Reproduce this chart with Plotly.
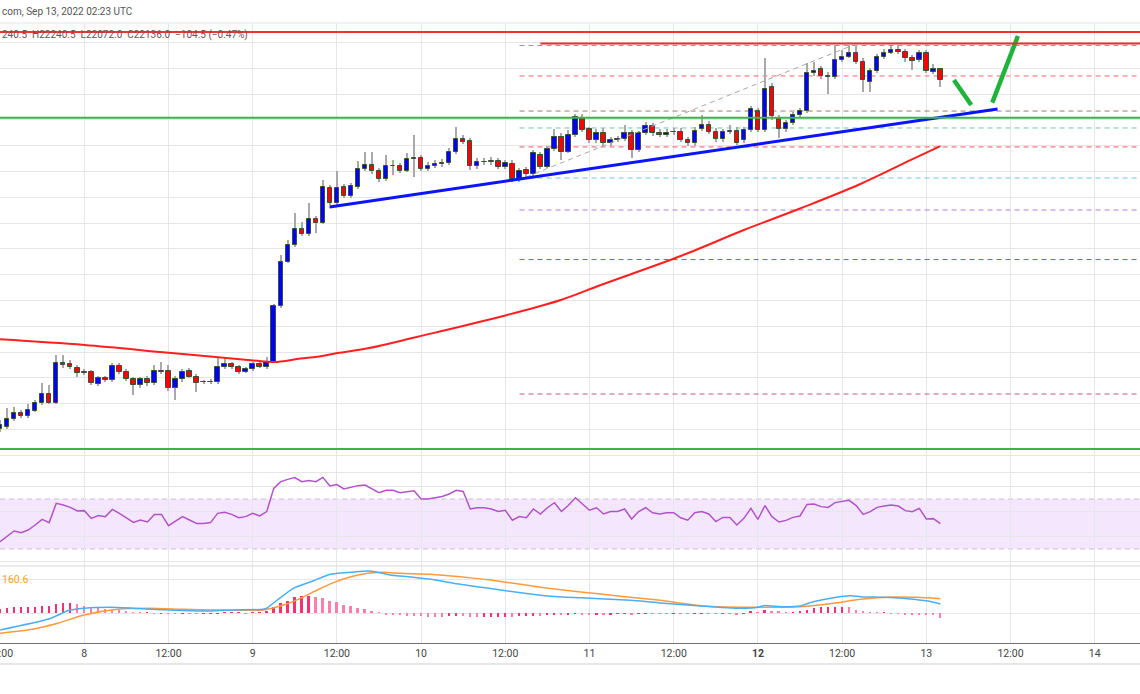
import plotly.graph_objects as go
import pandas as pd

BASE = pd.Timestamp("2022-09-07 12:00")

# ---------------- hourly candles (Sep 7 12:00 -> Sep 13 02:00 UTC) ----------------
opens = [18754, 18776, 18848, 18912, 18880, 18931, 19009, 19090, 19009, 19396,
         19381, 19342, 19303, 19303, 19190, 19245, 19229, 19367, 19309, 19238,
         19180, 19236, 19197, 19319, 19319, 19148, 19238, 19319, 19261, 19205,
         19206, 19207, 19358, 19381, 19352, 19309, 19332, 19381, 19352, 19406,
         19946, 20375, 20537, 20692, 20641, 20786, 20753, 21086, 20947, 21096,
         21012, 21102, 21271, 21312, 21254, 21174, 21302, 21302, 21257, 21367,
         21380, 21271, 21302, 21319, 21329, 21441, 21561, 21548, 21302, 21344,
         21351, 21351, 21296, 21322, 21174, 21264, 21222, 21409, 21296, 21464,
         21586, 21441, 21603, 21765, 21658, 21554, 21625, 21522, 21554, 21561,
         21619, 21457, 21619, 21693, 21625, 21603, 21630, 21632, 21554, 21522,
         21658, 21700, 21635, 21561, 21635, 21642, 21554, 21651, 21835, 21651,
         22065, 21765, 21658, 21716, 21797, 21835, 22207, 22240, 22175, 22168,
         22330, 22362, 22400, 22313, 22119, 22226, 22356, 22400, 22426, 22410,
         22346, 22330, 22400, 22216, 22240.5]
highs = [18841, 18957, 18967, 18938, 18996, 19035, 19200, 19180, 19471, 19471,
         19423, 19374, 19335, 19326, 19268, 19268, 19393, 19393, 19335, 19258,
         19258, 19268, 19374, 19406, 19374, 19268, 19335, 19345, 19287, 19229,
         19238, 19442, 19442, 19403, 19374, 19355, 19403, 19403, 19452, 19965,
         20440, 20585, 20844, 20763, 20941, 20818, 21167, 21118, 21254, 21128,
         21138, 21354, 21441, 21438, 21283, 21409, 21361, 21332, 21428, 21603,
         21409, 21341, 21361, 21370, 21477, 21683, 21603, 21574, 21380, 21380,
         21390, 21380, 21361, 21361, 21283, 21293, 21457, 21438, 21496, 21661,
         21622, 21651, 21806, 21806, 21680, 21661, 21671, 21583, 21593, 21700,
         21651, 21641, 21729, 21719, 21661, 21661, 21671, 21671, 21583, 21680,
         21797, 21739, 21671, 21661, 21700, 21680, 21680, 21884, 21864, 22346,
         22110, 21797, 21748, 21826, 21864, 22298, 22310, 22271, 22213, 22475,
         22426, 22475, 22475, 22349, 22252, 22388, 22436, 22465, 22475, 22436,
         22378, 22426, 22426, 22291, 22240.5]
lows = [18725, 18754, 18831, 18861, 18861, 18919, 18987, 18996, 18996, 19345,
        19335, 19261, 19277, 19180, 19171, 19209, 19209, 19287, 19219, 19083,
        19151, 19171, 19180, 19287, 19122, 19035, 19209, 19248, 19115, 19190,
        19190, 19190, 19335, 19335, 19283, 19297, 19316, 19345, 19335, 19393,
        19927, 20363, 20518, 20624, 20624, 20653, 20740, 20925, 20925, 20992,
        20992, 21080, 21254, 21225, 21147, 21157, 21215, 21235, 21244, 21196,
        21254, 21254, 21283, 21293, 21312, 21419, 21516, 21264, 21273, 21312,
        21312, 21273, 21273, 21147, 21147, 21196, 21206, 21273, 21283, 21448,
        21361, 21428, 21583, 21632, 21525, 21525, 21496, 21496, 21535, 21545,
        21380, 21438, 21603, 21593, 21583, 21583, 21603, 21535, 21496, 21496,
        21642, 21612, 21535, 21535, 21612, 21506, 21525, 21632, 21632, 21632,
        21748, 21574, 21632, 21700, 21777, 21816, 22175, 22146, 22000, 22146,
        22310, 22349, 22291, 22022, 22022, 22204, 22339, 22388, 22388, 22310,
        22233, 22310, 22204, 22195, 22072.0]
closes = [18793, 18848, 18912, 18880, 18938, 19009, 19090, 19009, 19396, 19374,
          19352, 19294, 19300, 19197, 19245, 19229, 19367, 19309, 19238, 19180,
          19236, 19197, 19319, 19306, 19148, 19238, 19309, 19261, 19197, 19206,
          19213, 19352, 19381, 19352, 19309, 19332, 19381, 19358, 19406, 19946,
          20375, 20537, 20692, 20641, 20786, 20753, 21102, 20947, 21086, 21012,
          21109, 21271, 21312, 21254, 21174, 21302, 21300, 21257, 21367, 21383,
          21271, 21302, 21319, 21334, 21441, 21561, 21538, 21302, 21344, 21345,
          21338, 21296, 21329, 21174, 21254, 21222, 21425, 21296, 21464, 21586,
          21441, 21603, 21780, 21651, 21554, 21625, 21522, 21554, 21561, 21619,
          21457, 21619, 21693, 21619, 21603, 21625, 21633, 21554, 21522, 21642,
          21700, 21635, 21561, 21635, 21642, 21522, 21651, 21852, 21651, 22046,
          21787, 21658, 21716, 21797, 21835, 22207, 22226, 22175, 22162, 22330,
          22362, 22400, 22313, 22136, 22226, 22356, 22400, 22426, 22410, 22346,
          22323, 22400, 22226, 22240, 22136.0]

# ---------------- RSI (14) per candle ----------------
rsi = [35.8, 40.4, 44.4, 43.1, 45.2, 49.2, 53.7, 51.1, 66.5, 65.2,
       63.3, 60.4, 60.7, 54.5, 56.7, 55.9, 61.7, 58.5, 55.1, 51.3,
       53.2, 51.6, 57.7, 57.7, 48.7, 52.4, 55.9, 53.2, 50.5, 50.5,
       51.1, 58.5, 59.3, 57.7, 55.1, 55.9, 58.5, 56.4, 59.9, 78.5,
       83.9, 85.7, 87.1, 83.9, 84.7, 83.9, 87.3, 80.4, 81.5, 78.0,
       79.3, 80.7, 81.2, 78.3, 75.1, 77.0, 77.0, 75.1, 76.0, 76.5,
       70.0, 70.0, 71.0, 72.0, 74.0, 77.0, 76.0, 62.0, 63.0, 63.0,
       62.0, 60.0, 61.0, 53.0, 56.0, 55.0, 62.0, 58.0, 63.0, 67.0,
       60.0, 65.0, 71.0, 66.0, 61.0, 63.0, 58.0, 60.0, 60.0, 62.0,
       54.0, 60.0, 63.0, 59.0, 58.0, 59.0, 59.0, 55.0, 53.0, 59.0,
       59.9, 58.0, 51.9, 55.3, 55.3, 49.2, 54.5, 62.5, 53.7, 64.7,
       55.9, 51.6, 52.9, 55.3, 56.4, 65.7, 66.0, 63.9, 63.3, 67.1,
       68.1, 68.9, 64.7, 57.7, 59.9, 63.3, 64.4, 65.2, 64.4, 60.7,
       59.9, 62.5, 54.0, 54.3, 50.3]

# ---------------- MACD ----------------
macd_hist = [51, 59, 67, 67, 75, 75, 87, 87, 107, 115,
             119, 103, 87, 67, 55, 47, 40, 36, 24, 8,
             4, 4, -4, -2, -6, -8, -6, -6, -8, -6,
             -4, -2, 2, 2, 2, -2, 2, 4, 28, 67,
             119, 146, 194, 206, 206, 186, 174, 146, 134, 99,
             79, 59, 47, 20, 8, -12, -16, -24, -30, -35,
             -40, -42, -44, -45, -40, -35, -38, -50, -50, -48,
             -46, -44, -42, -45, -40, -38, -30, -30, -25, -20,
             -22, -18, -10, -12, -14, -12, -14, -12, -10, -8,
             -12, -8, -6, -6, -8, -8, -6, -8, -8, -6,
             -4, -4, -8, -6, -8, -20, -6, 12, 4, 32,
             24, 12, 4, 4, 12, 36, 55, 67, 67, 75,
             75, 71, 36, 16, 4, 2, 2, -4, -4, -12,
             -12, -16, -28, -28, -55]
macd_hours = [0, 6.8, 8.6, 9.6, 12, 15.7, 19, 23.9, 30, 33.3, 37.5, 38, 39.5, 41.8,
              44.7, 46.7, 48.1, 50, 52.4, 53.8, 55.6, 57, 61.3, 65.6, 69.9, 74.2,
              78.4, 82.7, 89.8, 94.1, 99.8, 105.5, 108, 108.8, 111.6, 114, 115.9,
              118.8, 121.2, 122.6, 125.9, 129.3, 132.2, 134]
macd_line = [-202, -75, -12, 27, 56, 67, 56, 36, 24, 36, 44, 56, 154, 293,
             383, 451, 471, 483, 498, 483, 451, 439, 400, 340, 290, 240,
             200, 180, 150, 120, 83, 56, 67, 87, 75, 83, 134,
             182, 205, 194, 186, 170, 142, 107]
signal_hours = [0, 4.8, 8.2, 12, 16.7, 21.4, 26.1, 31, 37.5, 40.4, 42.8, 45.2, 47.5,
                50, 52.4, 54.7, 57.1, 61.3, 65.6, 69.9, 74.2, 78.4, 82.7, 88.4, 94.1,
                99.8, 108.4, 114.1, 118.8, 122.6, 127.3, 130.7, 134]
signal_line = [-241, -190, -122, -24, 44, 56, 44, 36, 36, 95, 174, 273, 360,
               431, 471, 483, 471, 460, 430, 390, 340, 290, 250, 200, 150,
               87, 67, 75, 115, 162, 190, 186, 170]

# ---------------- 100 SMA ----------------
sma_hours = [0, 12.04, 24, 36.1, 39, 42.8, 45.2, 48.1, 52.4, 59.5, 71.3, 79.9,
             85.6, 97, 106, 114.1, 122.6, 129.8, 134]
sma_vals = [19623, 19568, 19493, 19418, 19403, 19437, 19455, 19490, 19536, 19648,
            19842, 20004, 20149, 20430, 20682, 20893, 21128, 21361, 21496]

# ---------------- drawings ----------------
res_top = 22600
res_second = 22490
green_mid = 21770
green_low = 18560
fib_start_hour = 74.03
fib_levels = [22470, 22175, 21835, 21671, 21487, 21186, 20876, 20396, 19093]
fib_colors = ["#a89090", "#ef6b6b", "#a07676", "#6cc9b0", "#ef5a5a",
              "#71c4e8", "#b57ad6", "#4f68f0", "#c8587a"]
trend_hours = [46.96, 142.15]
trend_prices = [20905, 21855]
diag_hours = [75.0, 121.6]
diag_prices = [21196, 22475]
arrow1_hours = [135.93, 138.4]
arrow1_prices = [22136, 21894]
arrow2_hours = [141.4, 145.05]
arrow2_prices = [21916, 22562]

tick_hours = [0, 12, 24, 36, 48, 60, 72, 84, 96, 108, 120, 132, 144, 156]
tick_text = ["12:00", "8", "12:00", "9", "12:00", "10", "12:00", "11", "12:00",
             "<b>12</b>", "12:00", "13", "12:00", "14"]

price_grid = [18500 + 250 * k for k in range(17)]


def T(h):
    return BASE + pd.Timedelta(hours=h)


times = [T(i) for i in range(len(opens))]
FONT = "Roboto, Arial, sans-serif"

fig = go.Figure()

# wicks (thin bars)
fig.add_trace(go.Bar(
    x=times, base=lows, y=[h - l for h, l in zip(highs, lows)],
    width=0.16 * 3600000, marker=dict(color="#a9a9a9", line=dict(width=0)),
    yaxis="y", hoverinfo="skip"))
# bodies
body_base = [min(o, c) for o, c in zip(opens, closes)]
body_h = [abs(c - o) for o, c in zip(opens, closes)]
body_col = ["#0000ff" if c >= o else "#ff0000" for o, c in zip(opens, closes)]
fig.add_trace(go.Bar(
    x=times, base=body_base, y=body_h, width=0.64 * 3600000,
    marker=dict(color=body_col, line=dict(color="#3b4d3b", width=1)),
    yaxis="y", hoverinfo="skip"))

# SMA
fig.add_trace(go.Scatter(x=[T(h) for h in sma_hours], y=sma_vals, mode="lines",
                         line=dict(color="#ff1f1f", width=2, shape="spline"), yaxis="y"))
# fib diagonal
fig.add_trace(go.Scatter(x=[T(h) for h in diag_hours], y=diag_prices, mode="lines",
                         line=dict(color="#a8a8a8", width=1, dash="5px,4px"), yaxis="y"))
# trend line
fig.add_trace(go.Scatter(x=[T(h) for h in trend_hours], y=trend_prices, mode="lines",
                         line=dict(color="#0a14ff", width=3), yaxis="y"))
# green arrows
for hh, pp in [(arrow1_hours, arrow1_prices), (arrow2_hours, arrow2_prices)]:
    fig.add_trace(go.Scatter(x=[T(h) for h in hh], y=pp, mode="lines",
                             line=dict(color="#1fb33a", width=4.5), yaxis="y"))

# RSI
fig.add_trace(go.Scatter(x=times, y=rsi, mode="lines",
                         line=dict(color="#b154c8", width=1.5), yaxis="y2"))

# MACD histogram
hist_col = []
for i, v in enumerate(macd_hist):
    prev = macd_hist[i - 1] if i > 0 else v
    if v >= 0:
        hist_col.append("#f2336f" if v >= prev else "#ff7fa8")
    else:
        hist_col.append("#ff7fa8" if v <= prev else "#f2336f")
fig.add_trace(go.Bar(x=times, y=macd_hist, width=0.28 * 3600000,
                     marker=dict(color=hist_col, line=dict(width=0)), yaxis="y3"))
fig.add_trace(go.Scatter(x=[T(h) for h in signal_hours], y=signal_line, mode="lines",
                         line=dict(color="#ff9a3c", width=1.5, shape="spline", smoothing=0.6),
                         yaxis="y3"))
fig.add_trace(go.Scatter(x=[T(h) for h in macd_hours], y=macd_line, mode="lines",
                         line=dict(color="#4aaef5", width=1.5, shape="spline", smoothing=0.6),
                         yaxis="y3"))

shapes = []
# RSI band
shapes.append(dict(type="rect", xref="paper", yref="y2", x0=0, x1=1, y0=30, y1=70,
                   fillcolor="#f3e6fd", line=dict(width=0), layer="below"))
for lv in (30, 70):
    shapes.append(dict(type="line", xref="paper", yref="y2", x0=0, x1=1, y0=lv, y1=lv,
                       line=dict(color="#c8bfce", width=1, dash="5px,4px"), layer="between"))
# fib levels
for lv, col in zip(fib_levels, fib_colors):
    shapes.append(dict(type="line", xref="x", yref="y", x0=T(fib_start_hour), x1=T(170),
                       y0=lv, y1=lv, line=dict(color=col, width=1, dash="5px,4px"),
                       layer="between"))
# horizontal levels
shapes.append(dict(type="line", xref="paper", yref="y", x0=0, x1=1, y0=res_top, y1=res_top,
                   line=dict(color="#f23030", width=2)))
shapes.append(dict(type="line", xref="x", yref="y", x0=T(77.0), x1=T(170), y0=res_second,
                   y1=res_second, line=dict(color="#e53030", width=2)))
shapes.append(dict(type="line", xref="paper", yref="y", x0=0, x1=1, y0=green_mid, y1=green_mid,
                   line=dict(color="#3cb44b", width=2)))
shapes.append(dict(type="line", xref="paper", yref="y", x0=0, x1=1, y0=green_low, y1=green_low,
                   line=dict(color="#3cb44b", width=2)))
# pane borders
shapes.append(dict(type="line", xref="paper", yref="y domain", x0=0, x1=1, y0=1, y1=1,
                   line=dict(color="#e4e4e4", width=1)))
shapes.append(dict(type="line", xref="paper", yref="y3 domain", x0=0, x1=1, y0=1, y1=1,
                   line=dict(color="#e4e4e4", width=1.5)))
shapes.append(dict(type="line", xref="paper", yref="paper", x0=0, x1=1,
                   y0=1 - 664 / 694, y1=1 - 664 / 694, line=dict(color="#e6e6e6", width=2)))

annotations = [
    dict(text="com, Sep 13, 2022 02:23 UTC", xref="paper", yref="paper", x=0, y=1 - 12 / 694,
         xanchor="left", yanchor="middle", showarrow=False,
         font=dict(family=FONT, size=10, color="#555555")),
    dict(text="240.5  H22240.5  L22072.0  C22136.0  \u2212104.5 (\u22120.47%)", xref="paper",
         yref="paper", x=0, y=1 - 35 / 694, xanchor="left", yanchor="middle", showarrow=False,
         font=dict(family=FONT, size=10, color="#6d5555")),
    dict(text="160.6", xref="paper", yref="paper", x=0, y=1 - 579 / 694, xanchor="left",
         yanchor="middle", showarrow=False, font=dict(family=FONT, size=10.5, color="#ff9a3c")),
]

grid = "#e6e6e6"
fig.update_layout(
    width=1140, height=694, margin=dict(l=0, r=0, t=0, b=0, autoexpand=False),
    paper_bgcolor="white", plot_bgcolor="white", showlegend=False, barmode="overlay",
    bargap=0, shapes=shapes, annotations=annotations,
    xaxis=dict(type="date", range=[T(-0.01), T(162.45)], anchor="y3", domain=[0, 1],
               tickvals=[T(h) for h in tick_hours], ticktext=tick_text, ticks="",
               ticklabeloverflow="allow",
               showgrid=True, gridcolor=grid, gridwidth=1, zeroline=False,
               showline=True, linecolor="#707070", linewidth=1,
               tickfont=dict(family=FONT, size=10.5, color="#444444")),
    yaxis=dict(domain=[1 - 465 / 694, 1 - 23 / 694], range=[18405.2, 22688.1],
               tickvals=price_grid, showticklabels=False, gridcolor=grid, zeroline=False),
    yaxis2=dict(domain=[1 - 566 / 694, 1 - 465 / 694], range=[16.4, 97.2],
                tickvals=[20, 40, 60, 80, 91], showticklabels=False, gridcolor=grid,
                zeroline=False),
    yaxis3=dict(domain=[1 - 643 / 694, 1 - 566 / 694], range=[-355.9, 557.5],
                tickvals=[0, 400], showticklabels=False, gridcolor=grid, zeroline=False),
)

fig.write_html("out.html", config={"displayModeBar": False},
               post_script="document.body.style.margin='0';document.body.style.padding='0';")
